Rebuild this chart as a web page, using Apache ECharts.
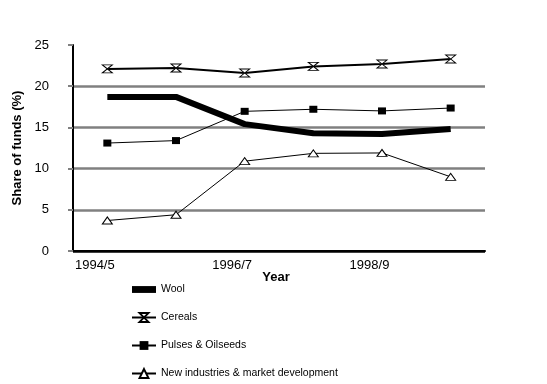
<!DOCTYPE html>
<html><head><meta charset="utf-8">
<script src="https://cdn.jsdelivr.net/npm/echarts@6/dist/echarts.min.js"></script>
<style>html,body{margin:0;padding:0;background:#fff}#c{width:547px;height:384px}</style>
</head><body><div id="c"></div>
<script>
const categories = ['1994/5','1995/6','1996/7','1997/8','1998/9','1999/00'];
const shownLabels = ['1994/5','1996/7','1998/9'];
const wool = [18.7, 18.7, 15.4, 14.3, 14.2, 14.8];
const cereals = [22.1, 22.2, 21.6, 22.4, 22.7, 23.3];
const pulses = [13.1, 13.4, 16.95, 17.2, 17.0, 17.35];
const newInd = [3.7, 4.4, 10.9, 11.85, 11.9, 9.0];
const yTicks = [0, 5, 10, 15, 20, 25];

const chart = echarts.init(document.getElementById('c'));
const font = 'Liberation Sans, Arial, sans-serif';
chart.setOption({
  animation: false,
  backgroundColor: '#fff',
  textStyle: {fontFamily: font},
  grid: {left: 73, right: 62, top: 45, bottom: 133},
  xAxis: {
    type: 'category', data: categories, boundaryGap: true,
    name: 'Year', nameLocation: 'middle', nameGap: 20, nameMoveOverlap: false,
    nameTextStyle: {fontFamily: font, fontWeight: 'bold', fontSize: 13, color: '#000', padding: [0, 6, 0, 0]},
    axisLine: {lineStyle: {color: '#000', width: 2}},
    axisTick: {alignWithLabel: true, interval: 0, length: 5, lineStyle: {color: '#808080', width: 2}},
    axisLabel: {interval: 0, color: '#000', fontSize: 13, fontFamily: font, margin: 8, padding: [0, 25, 0, 0],
      formatter: v => shownLabels.includes(v) ? v : ''}
  },
  yAxis: {
    type: 'value', min: 0, max: 25, interval: 5,
    name: 'Share of funds (%)', nameLocation: 'middle', nameGap: 47, nameRotate: 90,
    nameTextStyle: {fontFamily: font, fontWeight: 'bold', fontSize: 13, color: '#000'},
    axisLine: {show: true, lineStyle: {color: '#000', width: 2}},
    axisTick: {show: true, length: 5, lineStyle: {color: '#808080', width: 2}},
    axisLabel: {color: '#000', fontSize: 13, fontFamily: font, margin: 24,
      formatter: v => yTicks.includes(v) ? String(v) : ''},
    splitLine: {show: true, lineStyle: {color: ['#000','#808080','#808080','#808080','#808080','rgba(0,0,0,0)'], width: 2.5}}
  },
  legend: {
    orient: 'vertical', left: 126, top: 279, itemGap: 17, itemWidth: 24, itemHeight: 11,
    textStyle: {fontFamily: font, fontSize: 10.5, color: '#000', padding: [0, 0, 0, 0]},
    data: [
      {name: 'Wool', icon: 'path://M0,0 L21,0 L21,6 L0,6 Z'},
      'Cereals', 'Pulses & Oilseeds', 'New industries & market development'
    ]
  },
  series: [
    {name: 'Wool', type: 'line', data: wool, symbol: 'none', lineStyle: {color: '#000', width: 6}, itemStyle: {color: '#000'}, z: 3},
    {name: 'Cereals', type: 'line', data: cereals, symbol: 'path://M0,0 L10,0 L0,8 L10,8 Z', symbolSize: [10, 8],
      lineStyle: {color: '#000', width: 2}, itemStyle: {color: '#fff', borderColor: '#000', borderWidth: 1}},
    {name: 'Pulses & Oilseeds', type: 'line', data: pulses, symbol: 'rect', symbolSize: [8, 7],
      lineStyle: {color: '#000', width: 1}, itemStyle: {color: '#000'}},
    {name: 'New industries & market development', type: 'line', data: newInd, symbol: 'triangle', symbolSize: [10, 7],
      lineStyle: {color: '#000', width: 1}, itemStyle: {color: '#fff', borderColor: '#000', borderWidth: 1}}
  ]
});
</script></body></html>
